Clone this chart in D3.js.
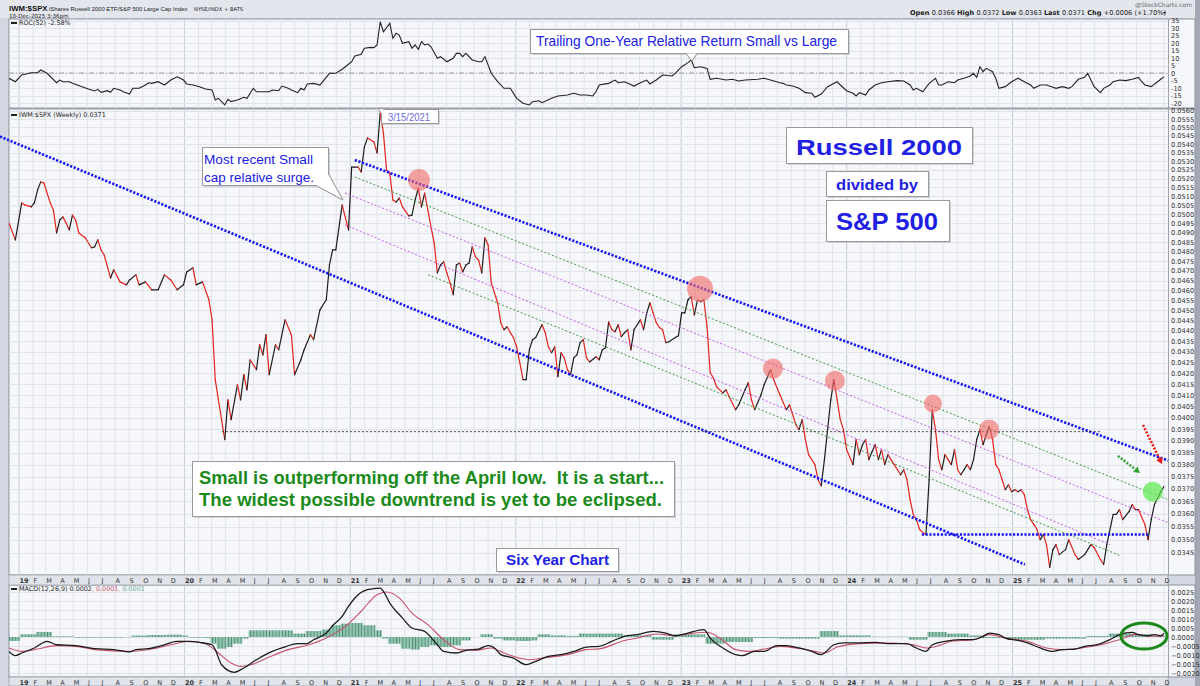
<!DOCTYPE html>
<html>
<head>
<meta charset="utf-8">
<script src="https://cdn.jsdelivr.net/npm/d3@7"></script>
<style>
  body { margin: 0; background: #d3d7e2; }
  svg { display: block; }
</style>
</head>
<body>
<div id="chart"></div>
<script>
// weekly data, index = weeks after 10-Dec-2018
const price = [[0,.04953],[2,.04862],[4,.05063],[5,.05052],[7,.05041],[8,.05063],[9,.05135],[10,.05181],[11,.05175],[13,.05063],[14,.05024],[15,.04899],[16,.04969],[17,.04986],[18,.04953],[19,.04915],[20,.04996],[21,.04969],[22,.04899],[24,.04873],[26,.04820],[27,.04825],[28,.04862],[29,.04809],[30,.04782],[32,.04663],[33,.04705],[35,.04643],[37,.04628],[38,.04653],[40,.04679],[41,.04628],[43,.04643],[45,.04603],[47,.04603],[49,.04679],[51,.04653],[53,.04603],[55,.04628],[56,.04694],[58,.04715],[59,.04628],[61,.04643],[63,.04553],[64,.04454],[65,.04171],[66,.04080],[67,.03992],[68,.03906],[69,.04080],[70,.03992],[72,.04148],[73,.04080],[74,.04194],[75,.04125],[76,.04263],[78,.04217],[79,.04334],[80,.04286],[81,.04382],[82,.04194],[84,.04334],[85,.04310],[87,.04454],[89,.04382],[90,.04194],[92,.04263],[93,.04310],[95,.04382],[96,.04358],[98,.04503],[100,.04553],[101,.04730],[102,.04809],[103,.04809],[105,.05052],[107,.04915],[108,.05266],[110,.05266],[111,.05238],[112,.05383],[113,.05437],[115,.05413],[116,.05348],[117,.05588],[118,.05467],[119,.05249],[120,.05232],[121,.05079],[122,.05068],[123,.05090],[124,.05041],[126,.04991],[127,.04996],[128,.05079],[129,.05146],[130,.05041],[131,.05118],[132,.05024],[133,.04931],[134,.04846],[135,.04689],[136,.04730],[137,.04746],[138,.04689],[139,.04638],[140,.04578],[141,.04730],[142,.04740],[143,.04694],[144,.04730],[145,.04740],[146,.04825],[147,.04772],[148,.04756],[149,.04689],[150,.04873],[151,.04835],[152,.04638],[154,.04538],[155,.04440],[156,.04406],[157,.04420],[158,.04392],[159,.04368],[160,.04324],[161,.04249],[162,.04171],[163,.04171],[164,.04310],[165,.04358],[166,.04368],[168,.04430],[169,.04392],[170,.04324],[171,.04296],[172,.04324],[173,.04185],[174,.04296],[175,.04272],[176,.04217],[177,.04194],[178,.04272],[179,.04286],[180,.04344],[181,.04358],[182,.04272],[183,.04253],[185,.04277],[186,.04263],[187,.04310],[188,.04320],[189,.04444],[190,.04406],[191,.04396],[192,.04430],[193,.04372],[194,.04392],[195,.04406],[196,.04310],[197,.04406],[198,.04430],[199,.04454],[200,.04406],[201,.04488],[202,.04538],[203,.04488],[204,.04440],[205,.04416],[206,.04406],[207,.04344],[208,.04348],[210,.04368],[211,.04377],[212,.04488],[213,.04488],[214,.04553],[215,.04568],[216,.04478],[217,.04553],[218,.04543],[219,.04553],[220,.04420],[221,.04203],[222,.04180],[223,.04139],[225,.04111],[226,.04125],[227,.04093],[229,.04036],[230,.04058],[232,.04125],[233,.04157],[234,.04080],[235,.04036],[237,.04102],[238,.04148],[240,.04217],[241,.04171],[243,.04102],[245,.04036],[246,.04058],[248,.03970],[249,.03949],[250,.03992],[251,.03906],[252,.03842],[254,.03800],[255,.03738],[256,.03713],[257,.03821],[258,.03949],[259,.04080],[260,.04171],[261,.04080],[262,.03992],[263,.03949],[264,.03863],[265,.03831],[266,.03800],[267,.03906],[268,.03842],[269,.03884],[270,.03906],[271,.03821],[272,.03854],[273,.03884],[274,.03821],[275,.03863],[276,.03800],[277,.03842],[278,.03821],[279,.03800],[280,.03779],[281,.03758],[282,.03779],[283,.03738],[284,.03657],[285,.03598],[286,.03578],[287,.03539],[288,.03528],[289,.03520],[290,.03738],[291,.04036],[292,.03949],[293,.03821],[294,.03779],[295,.03842],[296,.03821],[297,.03800],[298,.03863],[299,.03779],[300,.03758],[301,.03779],[302,.03800],[303,.03779],[304,.03821],[305,.03906],[306,.03949],[307,.03884],[308,.03927],[309,.03962],[310,.03906],[311,.03800],[312,.03779],[313,.03738],[314,.03697],[315,.03717],[316,.03689],[317,.03697],[318,.03689],[319,.03697],[320,.03677],[321,.03617],[322,.03578],[323,.03559],[324,.03539],[325,.03500],[326,.03520],[327,.03481],[328,.03395],[329,.03462],[330,.03481],[331,.03443],[333,.03462],[334,.03500],[336,.03443],[337,.03425],[339,.03443],[341,.03481],[342,.03470],[344,.03425],[345,.03406],[346,.03481],[348,.03598],[349,.03598],[350,.03617],[351,.03578],[353,.03609],[354,.03637],[355,.03617],[356,.03617],[358,.03559],[359,.03500],[360,.03578],[361,.03637],[363,.03689],[364,.03710]];

const roc = [[0,-3.5],[2,-5.8],[4,-1.3],[7,0.2],[9,0.2],[10,2.0],[12,-0.2],[15,-6.5],[16,-4.7],[17,-5.8],[19,-5.8],[20,-6.9],[23,-9.1],[25,-10.7],[27,-12.0],[28,-10.9],[29,-12.9],[31,-11.8],[32,-12.9],[33,-10.2],[35,-11.3],[36,-12.5],[38,-14.0],[39,-10.2],[41,-10.2],[43,-8.0],[44,-6.5],[45,-6.9],[47,-5.8],[49,-8.0],[51,-4.7],[53,-2.5],[55,-4.7],[56,-7.3],[58,-8.0],[60,-9.1],[62,-10.7],[64,-11.3],[65,-18.0],[66,-16.9],[68,-21.3],[69,-17.5],[70,-19.1],[72,-18.0],[74,-16.2],[75,-16.9],[77,-10.2],[78,-12.5],[80,-12.5],[82,-12.5],[83,-11.3],[85,-11.8],[86,-8.7],[88,-10.2],[89,-11.3],[91,-13.1],[92,-10.2],[93,-11.3],[94,-7.3],[96,-6.9],[98,-8.0],[101,-0.2],[103,-0.2],[105,2.5],[106,4.2],[108,7.5],[109,11.3],[111,12.5],[112,16.5],[114,17.1],[115,16.9],[116,18.7],[117,34.2],[118,27.5],[120,33.1],[121,23.1],[122,26.5],[123,25.3],[124,19.8],[126,20.9],[127,16.5],[128,18.7],[129,15.8],[130,20.9],[131,18.7],[132,19.3],[133,17.5],[135,9.8],[136,10.9],[138,7.5],[140,9.8],[141,13.1],[142,13.1],[143,10.9],[144,13.1],[146,8.7],[148,7.5],[149,7.5],[150,10.9],[152,-0.2],[154,-5.8],[156,-10.2],[158,-10.2],[160,-16.9],[162,-20.2],[164,-21.3],[165,-19.1],[167,-18.5],[168,-19.8],[171,-16.9],[173,-15.3],[176,-14.7],[178,-13.5],[180,-14.7],[182,-14.7],[184,-15.3],[185,-12.5],[186,-8.0],[189,-6.9],[191,-4.7],[192,-6.5],[194,-5.8],[197,-8.7],[199,-6.5],[201,-4.7],[202,-7.3],[204,-4.7],[206,-1.3],[209,-2.0],[210,-0.2],[212,4.2],[214,6.9],[215,8.7],[216,3.5],[218,4.2],[220,3.1],[221,-4.2],[223,-3.5],[226,-4.7],[228,-4.2],[230,-5.3],[232,-4.7],[236,-4.2],[238,-3.5],[240,-4.7],[243,-6.5],[244,-6.9],[245,-8.0],[247,-8.7],[249,-10.2],[251,-13.1],[253,-13.5],[254,-16.2],[256,-14.0],[258,-9.1],[261,-5.8],[262,-8.0],[264,-11.8],[266,-13.5],[267,-15.3],[268,-13.1],[270,-14.7],[271,-11.3],[273,-8.0],[275,-6.5],[277,-5.8],[280,-5.1],[282,-5.3],[284,-8.0],[285,-11.3],[286,-10.2],[288,-12.5],[290,-6.9],[292,-3.5],[293,-8.0],[294,-8.0],[296,-5.8],[298,-6.5],[299,-4.7],[301,-3.5],[303,-2.0],[304,-0.2],[305,-2.9],[306,4.2],[307,0.9],[308,3.1],[310,0.9],[311,-3.5],[312,-10.2],[314,-9.1],[316,-5.8],[317,-4.7],[318,-3.5],[320,-5.8],[322,-8.0],[323,-10.2],[325,-8.0],[327,-8.0],[329,-9.5],[330,-10.2],[332,-9.1],[334,-10.2],[335,-9.1],[337,-4.2],[339,-2.9],[340,-0.2],[341,-4.7],[342,-9.1],[344,-13.1],[345,-10.2],[347,-8.0],[348,-5.8],[350,-4.7],[352,-5.1],[354,-4.2],[356,-2.9],[357,-5.8],[358,-8.0],[360,-9.1],[362,-5.8],[363,-4.2],[364,-2.6]];

const macdLine = [[0,-.00080],[2,-.00104],[4,-.00089],[8,-.00061],[12,-.00024],[15,-.00043],[21,-.00048],[27,-.00065],[33,-.00070],[38,-.00083],[40,-.00070],[44,-.00065],[48,-.00048],[53,-.00024],[56,-.00024],[60,-.00030],[64,-.00043],[65,-.00070],[67,-.00154],[71,-.00196],[74,-.00172],[78,-.00126],[83,-.00080],[86,-.00061],[91,-.00037],[94,-.00037],[96,-.00015],[100,.00022],[102,.00063],[105,.00115],[107,.00170],[109,.00217],[113,.00263],[117,.00272],[118,.00254],[120,.00189],[124,.00106],[127,.00050],[131,.00031],[135,-.00043],[137,-.00080],[141,-.00089],[144,-.00074],[148,-.00067],[151,-.00048],[153,-.00061],[155,-.00098],[159,-.00117],[163,-.00154],[166,-.00135],[170,-.00107],[174,-.00098],[178,-.00080],[182,-.00056],[186,-.00052],[190,-.00024],[194,.00004],[198,.00013],[203,.00031],[207,.00022],[210,.00007],[214,.00022],[219,.00041],[221,-.00006],[225,-.00061],[229,-.00098],[231,-.00104],[235,-.00080],[238,-.00080],[242,-.00048],[245,-.00048],[249,-.00061],[253,-.00080],[256,-.00098],[257,-.00089],[260,-.00043],[263,-.00033],[268,-.00033],[273,-.00030],[278,-.00037],[283,-.00037],[286,-.00061],[289,-.00080],[291,-.00043],[295,-.00024],[300,-.00015],[304,-.00015],[307,.00004],[309,.00022],[312,.00013],[314,-.00006],[318,-.00019],[321,-.00033],[325,-.00061],[329,-.00080],[332,-.00070],[336,-.00067],[339,-.00052],[343,-.00043],[347,-.00015],[350,.00013],[354,.00026],[356,.00013],[359,.00007],[361,.00013],[363,.00007],[364,.00020]];

const signalLine = [[0,-.00061],[4,-.00080],[9,-.00067],[15,-.00048],[21,-.00052],[27,-.00070],[38,-.00080],[45,-.00067],[51,-.00043],[57,-.00024],[62,-.00037],[66,-.00089],[70,-.00144],[73,-.00163],[77,-.00150],[82,-.00111],[88,-.00070],[94,-.00046],[100,-.00006],[106,.00059],[111,.00143],[116,.00235],[119,.00250],[123,.00217],[127,.00133],[132,.00069],[137,-.00015],[142,-.00070],[147,-.00074],[152,-.00061],[156,-.00089],[164,-.00126],[168,-.00117],[176,-.00098],[182,-.00070],[186,-.00066],[194,-.00019],[198,-.00006],[204,.00017],[210,.00007],[216,.00022],[220,.00026],[224,-.00006],[229,-.00070],[233,-.00080],[238,-.00067],[243,-.00052],[248,-.00061],[254,-.00080],[257,-.00089],[261,-.00056],[268,-.00037],[278,-.00033],[285,-.00043],[289,-.00061],[293,-.00048],[297,-.00024],[304,-.00015],[309,.00013],[314,-.00006],[321,-.00024],[327,-.00061],[332,-.00070],[338,-.00061],[344,-.00043],[350,-.00015],[355,.00013],[360,.00004],[363,.00004],[364,.00010]];

// histogram readings: value holds until the next reading
const macdHist = [[0,-.00022],[4,.00015],[9,.00028],[14,.00004],[21,-.00004],[30,-.00004],[36,-.00002],[39,.00008],[44,.00011],[50,.00013],[55,.00008],[57,-.00004],[62,-.00006],[64,-.00037],[66,-.00065],[69,-.00056],[71,-.00037],[74,-.00009],[76,.00037],[82,.00037],[86,.00037],[90,.00019],[94,.00033],[99,.00041],[102,.00065],[105,.00074],[108,.00078],[112,.00065],[116,.00037],[118,-.00009],[120,-.00037],[124,-.00065],[127,-.00070],[130,-.00056],[133,-.00046],[136,-.00056],[140,-.00046],[143,-.00019],[146,0],[149,.00015],[153,-.00009],[156,-.00019],[160,-.00022],[165,-.00019],[167,.00015],[171,.00009],[176,.00006],[180,.00019],[186,.00019],[194,.00009],[203,-.00015],[210,.00015],[220,-.00037],[226,-.00028],[235,-.00006],[243,-.00009],[256,.00033],[262,.00009],[272,.00002],[284,-.00015],[290,.00028],[296,.00019],[303,.00009],[307,-.00006],[315,-.00015],[327,-.00009],[340,.00006],[347,.00019],[355,.00015],[361,.00004],[365,0]];

const rocTicks = [35,30,25,20,15,10,5,0,-5,-10,-15,-20];
const priceTicks = [0.0345,0.0350,0.0355,0.0360,0.0365,0.0370,0.0375,0.0380,0.0385,0.0390,0.0395,0.0400,0.0405,0.0410,0.0415,0.0420,0.0425,0.0430,0.0435,0.0440,0.0445,0.0450,0.0455,0.0460,0.0465,0.0470,0.0475,0.0480,0.0485,0.0490,0.0495,0.0500,0.0505,0.0510,0.0515,0.0520,0.0525,0.0530,0.0535,0.0540,0.0545,0.0550,0.0555,0.0560];
const macdTicks = [0.0025,0.0020,0.0015,0.0010,0.0005,0,-0.0005,-0.0010,-0.0015,-0.0020];
const monthLetters = ["J","F","M","A","M","J","J","A","S","O","N","D"];

// drawn annotations: [week, value]
const trendLines = [
  {a:[109,.05307], b:[365.3,.03817], color:"#1616f0", w:2.6, dash:"2.2,1.6"},
  {a:[-2.84,.05445], b:[320.2,.03406], color:"#1616f0", w:2.6, dash:"2.2,1.6"},
  {a:[109,.05209], b:[365.3,.03657], color:"#3f9a3f", w:1, dash:"2,2"},
  {a:[105.9,.05118], b:[365.3,.03566], color:"#c45cf2", w:1, dash:"2,2"},
  {a:[105.9,.04942], b:[347,.03481], color:"#c45cf2", w:1, dash:"2,2"},
  {a:[132.1,.04679], b:[350.1,.03440], color:"#3f9a3f", w:1, dash:"2,2"},
  {a:[67.1,.03940], b:[343.8,.03940], color:"#333333", w:0.9, dash:"2,2"},
  {a:[287.7,.03520], b:[359,.03520], color:"#1616f0", w:2.6, dash:"2.2,1.6"}
];
const redCircles = [[129.2,.05192,11],[217.8,.04608,13],[240.8,.04222,10],[260.3,.04166,10],[291.2,.04063,9],[308.9,.03949,10]];
const greenCircles = [[360.5,.03689,10]];

const W = 1200, H = 686, L = 9, R = 1168, AX = 1195;
const start = Date.UTC(2018, 11, 10), end = Date.UTC(2025, 11, 10);
const x = d3.scaleUtc().domain([new Date(start), new Date(end)]).range([L, R]);
const xw = w => x(new Date(start + w * 7 * 864e5));

const P = {roc:{top:19,bottom:108}, main:{top:109,bottom:575}, macd:{top:585,bottom:677}};
const yRoc = d3.scaleLinear().domain([-23.33, 36]).range([P.roc.bottom, P.roc.top]);
const yPrice = d3.scaleLog().domain([0.03367, 0.05612]).range([P.main.bottom, P.main.top]);
const yMacd = d3.scaleLinear().domain([-0.002222, 0.002889]).range([P.macd.bottom, P.macd.top]);

const svg = d3.select('#chart').append('svg').attr('width', W).attr('height', H)
  .style('font-family', 'DejaVu Sans, sans-serif');

svg.append('rect').attr('width', W).attr('height', H).attr('fill', '#d3d7e2');
svg.append('rect').attr('width', W).attr('height', 18).attr('fill', '#e3e6ed');
svg.append('rect').attr('x', AX).attr('width', W - AX).attr('height', H).attr('fill', '#a4a8b4');

const defs = svg.append('defs');
Object.entries(P).forEach(([k, p]) => {
  defs.append('clipPath').attr('id', 'clip-' + k)
    .append('rect').attr('x', L).attr('y', p.top).attr('width', R - L).attr('height', p.bottom - p.top);
});
const pat = defs.append('pattern').attr('id', 'hist').attr('patternUnits', 'userSpaceOnUse')
  .attr('x', L).attr('width', 3.173).attr('height', 10);
pat.append('rect').attr('width', 3.173).attr('height', 10).attr('fill', '#93c4b0');
pat.append('rect').attr('width', 0.9).attr('height', 10).attr('fill', '#4c8b74');

const months = d3.utcMonth.range(new Date(start), new Date(end));

function panel(p, ticks, y, fmt) {
  svg.append('rect').attr('x', L).attr('y', p.top).attr('width', AX - L).attr('height', p.bottom - p.top)
    .attr('fill', '#f6f7fa').attr('stroke', '#8d919d').attr('stroke-width', 1);
  const g = svg.append('g');
  g.selectAll('.v').data(months).join('line')
    .attr('x1', d => x(d)).attr('x2', d => x(d)).attr('y1', p.top).attr('y2', p.bottom)
    .attr('stroke', d => d.getUTCMonth() === 0 ? '#c9ccd6' : '#e1e3ea').attr('stroke-width', 1);
  g.selectAll('.h').data(ticks).join('line')
    .attr('x1', L).attr('x2', R).attr('y1', d => Math.round(y(d)) + 0.5).attr('y2', d => Math.round(y(d)) + 0.5)
    .attr('stroke', '#e1e3ea');
  svg.append('line').attr('x1', R + 0.5).attr('x2', R + 0.5).attr('y1', p.top).attr('y2', p.bottom)
    .attr('stroke', '#9ea2ad');
  svg.append('g').selectAll('text').data(ticks).join('text')
    .attr('x', R + 3).attr('y', d => y(d) + 2.5).attr('font-size', 6.6).attr('fill', '#333')
    .text(fmt);
}
panel(P.roc, rocTicks, yRoc, d => d);
panel(P.main, priceTicks, yPrice, d3.format('.4f'));
panel(P.macd, macdTicks, yMacd, d3.format('.4f'));

// month strips
[[575, 585], [677, 686]].forEach(([t, b]) => {
  svg.append('rect').attr('x', L).attr('y', t).attr('width', R - L).attr('height', b - t)
    .attr('fill', '#e0e3ea').attr('stroke', '#8d919d').attr('stroke-width', 0.6);
  svg.append('g').selectAll('text').data(months).join('text')
    .attr('x', d => x(d) + 0.5).attr('y', t + 7.5)
    .attr('font-size', 6.5)
    .attr('font-weight', d => d.getUTCMonth() === 0 ? 'bold' : 'normal')
    .attr('fill', '#333')
    .text(d => d.getUTCMonth() === 0 ? String(d.getUTCFullYear()).slice(2) : monthLetters[d.getUTCMonth()]);
});

// ROC panel
const gRoc = svg.append('g').attr('clip-path', 'url(#clip-roc)');
gRoc.append('line').attr('x1', L).attr('x2', R).attr('y1', yRoc(0)).attr('y2', yRoc(0))
  .attr('stroke', '#9a9a9a').attr('stroke-dasharray', '5,2,1,2');
gRoc.append('path').datum(roc)
  .attr('d', d3.line().x(d => xw(d[0])).y(d => yRoc(d[1])))
  .attr('fill', 'none').attr('stroke', '#222').attr('stroke-width', 1.1);

// price panel
const gMain = svg.append('g').attr('clip-path', 'url(#clip-main)');
const segs = price.slice(1).map((d, i) => [price[i], d]);
gMain.selectAll('.seg').data(segs).join('line')
  .attr('x1', d => xw(d[0][0])).attr('y1', d => yPrice(d[0][1]))
  .attr('x2', d => xw(d[1][0])).attr('y2', d => yPrice(d[1][1]))
  .attr('stroke', d => d[1][1] >= d[0][1] ? '#1d1d1d' : '#e5231d')
  .attr('stroke-width', 1.2).attr('stroke-linecap', 'round');

svg.append('g').selectAll('line').data(trendLines).join('line')
  .attr('x1', d => xw(d.a[0])).attr('y1', d => yPrice(d.a[1]))
  .attr('x2', d => xw(d.b[0])).attr('y2', d => yPrice(d.b[1]))
  .attr('stroke', d => d.color).attr('stroke-width', d => d.w).attr('stroke-dasharray', d => d.dash);

svg.append('g').selectAll('circle').data(redCircles).join('circle')
  .attr('cx', d => xw(d[0])).attr('cy', d => yPrice(d[1])).attr('r', d => d[2])
  .attr('fill', '#f06a6a').attr('fill-opacity', 0.62);
svg.append('g').selectAll('circle').data(greenCircles).join('circle')
  .attr('cx', d => xw(d[0])).attr('cy', d => yPrice(d[1])).attr('r', d => d[2])
  .attr('fill', '#5de84a').attr('fill-opacity', 0.7);

// dotted arrows
function arrow(x1, y1, x2, y2, color) {
  const ang = Math.atan2(y2 - y1, x2 - x1), s = 6;
  svg.append('line').attr('x1', x1).attr('y1', y1)
    .attr('x2', x2 - Math.cos(ang) * s).attr('y2', y2 - Math.sin(ang) * s)
    .attr('stroke', color).attr('stroke-width', 2.6).attr('stroke-dasharray', '2,1.6');
  const p = [[x2, y2],
    [x2 - s * Math.cos(ang) + 3.5 * Math.sin(ang), y2 - s * Math.sin(ang) - 3.5 * Math.cos(ang)],
    [x2 - s * Math.cos(ang) - 3.5 * Math.sin(ang), y2 - s * Math.sin(ang) + 3.5 * Math.cos(ang)]];
  svg.append('path').attr('d', 'M' + p.join('L') + 'Z').attr('fill', color);
}
arrow(1143, 425, 1162, 464, '#ee1a1a');
arrow(1118, 456, 1140, 473, '#2fa52f');

// MACD panel
const gMacd = svg.append('g').attr('clip-path', 'url(#clip-macd)');
gMacd.selectAll('rect').data(macdHist.slice(0, -1)).join('rect')
  .attr('x', d => xw(d[0] - 0.5))
  .attr('width', (d, i) => xw(macdHist[i + 1][0] - 0.5) - xw(d[0] - 0.5))
  .attr('y', d => Math.min(yMacd(d[1]), yMacd(0)))
  .attr('height', d => Math.abs(yMacd(d[1]) - yMacd(0)))
  .attr('fill', 'url(#hist)');
gMacd.append('path').datum(signalLine)
  .attr('d', d3.line().x(d => xw(d[0])).y(d => yMacd(d[1])).curve(d3.curveMonotoneX))
  .attr('fill', 'none').attr('stroke', '#c8506c').attr('stroke-width', 1.1);
gMacd.append('path').datum(macdLine)
  .attr('d', d3.line().x(d => xw(d[0])).y(d => yMacd(d[1])).curve(d3.curveMonotoneX))
  .attr('fill', 'none').attr('stroke', '#1b1b1b').attr('stroke-width', 1.3);
svg.append('ellipse').attr('cx', 1144).attr('cy', 636).attr('rx', 23).attr('ry', 13)
  .attr('fill', 'none').attr('stroke', '#1b8a1b').attr('stroke-width', 3);

// header texts
svg.append('text').attr('x', 9).attr('y', 10.5).attr('font-family', 'Liberation Sans, Arial')
  .attr('font-weight', 'bold').attr('font-size', 7.8).attr('fill', '#111').text('IWM:$SPX');
svg.append('text').attr('x', 49).attr('y', 10.5).attr('font-family', 'Liberation Sans, Arial')
  .attr('font-size', 5.9).attr('fill', '#222')
  .text('iShares Russell 2000 ETF/S&P 500 Large Cap Index');
svg.append('text').attr('x', 194).attr('y', 10.5).attr('font-size', 5.2).attr('fill', '#222')
  .text('NYSE/INDX + BATS');
svg.append('text').attr('x', 9).attr('y', 17.5).attr('font-size', 5.6).attr('fill', '#222')
  .text('10-Dec-2025 3:36pm');
svg.append('text').attr('x', 1192).attr('y', 7).attr('text-anchor', 'end').attr('font-size', 6)
  .attr('fill', '#666').text('@StockCharts.com');
const hdr = svg.append('text').attr('x', 1166).attr('y', 15).attr('text-anchor', 'end')
  .attr('font-size', 6.6).attr('fill', '#222');
[['Open ', 1], ['0.0366 ', 0], ['High ', 1], ['0.0372 ', 0], ['Low ', 1], ['0.0363 ', 0],
 ['Last ', 1], ['0.0371 ', 0], ['Chg ', 1], ['+0.0006 (+1.70%) ', 0]].forEach(([t, b]) =>
  hdr.append('tspan').attr('font-weight', b ? 'bold' : 'normal').text(t));
svg.append('path').attr('d', 'M1163,12 l3,0 l-1.5,2 z').attr('fill', '#222');

function legend(px, py, parts) {
  svg.append('rect').attr('x', px).attr('y', py - 3).attr('width', 6).attr('height', 2).attr('fill', '#222');
  const t = svg.append('text').attr('x', px + 8).attr('y', py).attr('font-size', 6.4);
  parts.forEach(([s, c]) => t.append('tspan').attr('fill', c).text(s));
}
legend(11, 25, [['ROC(52) -2.58%', '#222']]);
legend(11, 117, [['IWM:$SPX (Weekly) 0.0371', '#222']]);
legend(11, 591, [['MACD(12,26,9) 0.0002', '#222'], [', 0.0001', '#c8506c'], [', 0.0001', '#6aa894']]);

// callout boxes
function callout(bx, by, bw, bh, ptr) {
  svg.append('rect').attr('x', bx + 2).attr('y', by + 2).attr('width', bw).attr('height', bh)
    .attr('fill', '#b8bcc6').attr('fill-opacity', 0.6);
  if (ptr) svg.append('path').attr('d', 'M' + ptr.join('L') + 'Z').attr('fill', '#fff')
    .attr('stroke', '#9a9a9a').attr('stroke-width', 1);
  svg.append('rect').attr('x', bx + 0.5).attr('y', by + 0.5).attr('width', bw).attr('height', bh)
    .attr('fill', '#fff').attr('stroke', '#9a9a9a').attr('stroke-width', 1);
  if (ptr) {
    svg.append('path').attr('d', 'M' + ptr.join('L') + 'Z').attr('fill', '#fff');
    svg.append('path').attr('d', 'M' + ptr.join('L')).attr('fill', 'none')
      .attr('stroke', '#9a9a9a').attr('stroke-width', 1);
  }
}
function note(tx, ty, txt, size, len, color, bold, anchor) {
  svg.append('text').attr('x', tx).attr('y', ty).attr('font-family', 'Liberation Sans, Arial')
    .attr('font-size', size).attr('font-weight', bold ? 'bold' : 'normal').attr('fill', color)
    .attr('text-anchor', anchor || 'start').style('white-space', 'pre')
    .attr('textLength', len).attr('lengthAdjust', 'spacingAndGlyphs').text(txt);
}
const blue = '#2020e2';
callout(530, 29, 318, 24, [[686, 53.5], [692, 61], [697, 53.5]]);
note(536, 46, 'Trailing One-Year Relative Return Small vs Large', 14.5, 301, blue);

callout(202, 147, 126, 38, [[316, 185.5], [343, 200], [328.5, 174]]);
note(204, 164, 'Most recent Small', 13.5, 109, blue);
note(204, 182, 'cap relative surge.', 13.5, 110, blue);

callout(381, 109, 57, 14, [[386, 109.5], [378, 108], [381.5, 114]]);
note(388, 121, '3/15/2021', 11.5, 42, '#6b6bdc');

callout(786, 127, 186, 36, null);
note(796, 155, 'Russell 2000', 22, 166, blue, true);
callout(826, 171, 102, 25, null);
note(836, 190, 'divided by', 15, 82, blue, true);
callout(826, 200, 123, 41, null);
note(836, 230, 'S&P 500', 24.5, 102, blue, true);

callout(192, 461, 482, 55, null);
note(199, 484, 'Small is outperforming off the April low.  It is a start...', 17.5, 465, '#1b8a1b', true);
note(199, 506, 'The widest possible downtrend is yet to be eclipsed.', 17.5, 463, '#1b8a1b', true);

callout(496, 548, 122, 23, null);
note(506, 565, 'Six Year Chart', 14, 103, blue, true);
</script>
</body>
</html>
